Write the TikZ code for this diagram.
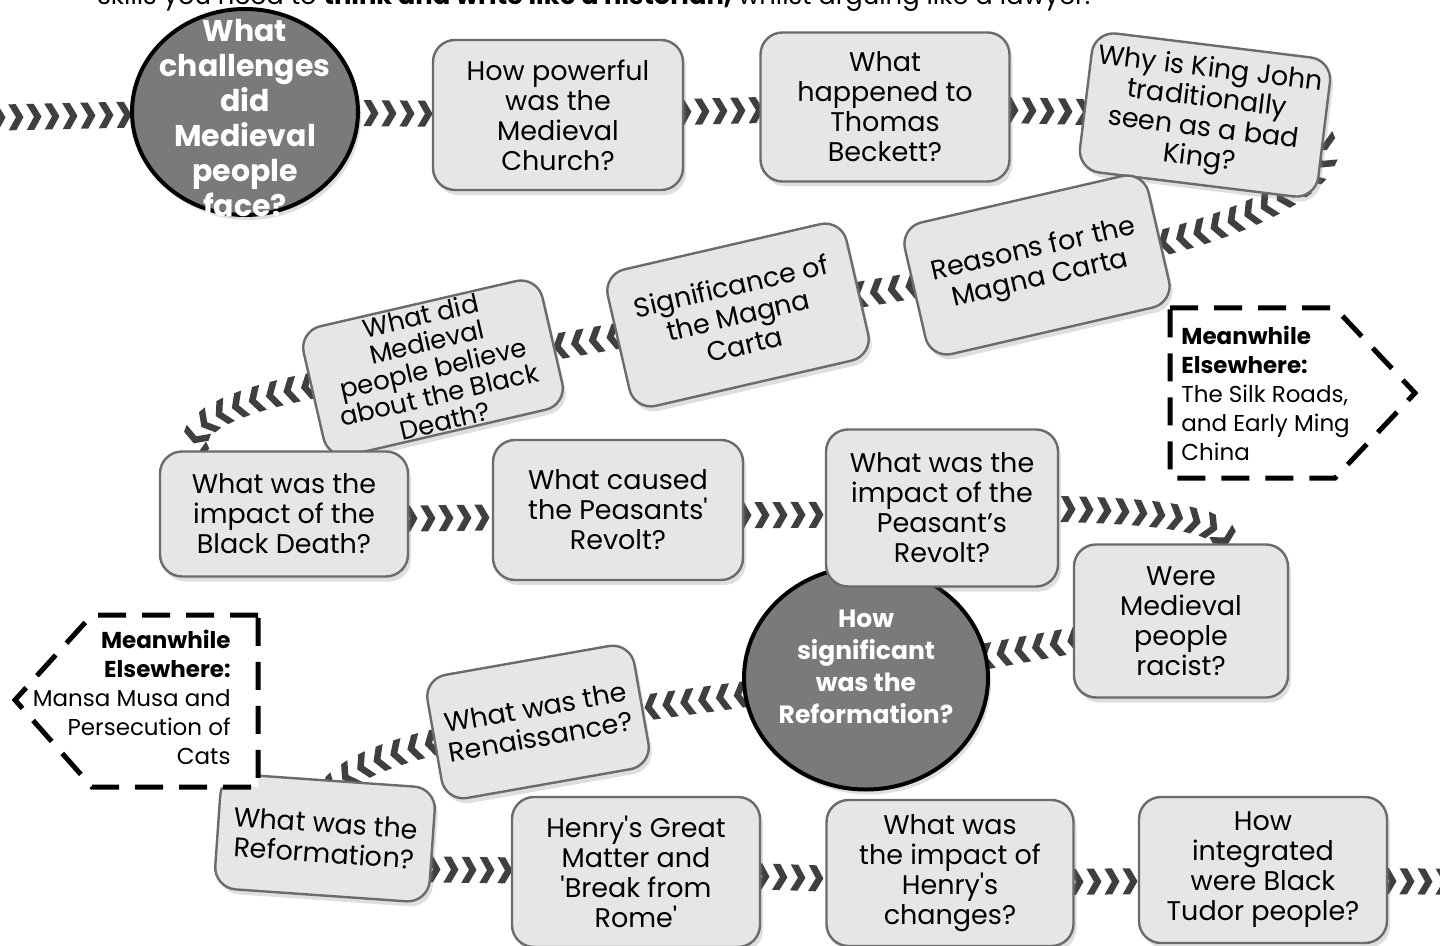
\documentclass[tikz,border=0pt]{standalone}
\usepackage{fontspec}
\setmainfont{Poppins}
\usetikzlibrary{shapes.geometric,shadows,decorations.markings,backgrounds}

\definecolor{boxfill}{HTML}{E6E6E6}
\definecolor{boxline}{HTML}{6B6B6B}
\definecolor{bigfill}{HTML}{7A7A7A}
\definecolor{chevgrey}{HTML}{3F3F3F}

\newcommand{\qsize}{\fontsize{13.5}{15}\selectfont}
\newcommand{\sq}{\textquotesingle}

\tikzset{
  qbox/.style 2 args={draw=boxline, fill=boxfill, line width=1.2pt,
    rounded corners=11pt, align=center, inner sep=1pt, font=\qsize,
    minimum width=#1*0.5pt, minimum height=#2*0.5pt,
    drop shadow={shadow xshift=1.5pt, shadow yshift=-2.5pt, opacity=0.25}},
  bigq/.style 2 args={ellipse, draw=black, fill=bigfill, line width=2pt,
    minimum width=#1*0.5pt, minimum height=#2*0.5pt, inner sep=0pt,
    drop shadow={shadow xshift=1.5pt, shadow yshift=-2.5pt, opacity=0.25}},
  bigqtext/.style={text=white, align=center, inner sep=0pt},
  chevron/.style={decoration={markings,
      mark=between positions 0 and 1 step 9pt with {
        \fill[chevgrey] (-3.75pt,6.5pt) -- (0pt,6.5pt) -- (3.75pt,0pt)
          -- (0pt,-6.5pt) -- (-3.75pt,-6.5pt) -- (0pt,0pt) -- cycle;}},
    postaction=decorate},
  elsewhere/.style={draw=black, fill=white, line width=2.5pt,
    dash pattern=on 14pt off 8pt},
  elsetext/.style={font=\fontsize{11.5}{14.5}\selectfont, inner sep=0pt}
}

\begin{document}
\begin{tikzpicture}[x=0.5pt, y=-0.5pt]
  \useasboundingbox (0,0) rectangle (1440,946);
  \clip (0,0) rectangle (1440,946);

  \node[anchor=base west, font=\fontsize{12.9}{14}\selectfont, inner sep=0pt] (intro) at (97,5)
    {skills you need to \textbf{think and write like a historian,} whilst arguing like a lawyer.};

  % big questions
  \node[bigq={226}{206}] (c1) at (245,112) {};
  \node[bigqtext, font=\fontsize{15}{17.5}\selectfont\bfseries] (c1txt) at (245,118)
    {What\\challenges\\did\\Medieval\\people\\face?};
  \node[bigq={244}{223}] (c2) at (866,678) {};
  \node[bigqtext, font=\fontsize{12.5}{16}\selectfont\bfseries] (c2txt) at (866,667)
    {How\\significant\\was the\\Reformation?};

  % lessons
  \node[qbox={250}{150}] (church) at (558,115) {How powerful\\was the\\Medieval\\Church?};
  \node[qbox={249}{149}] (becket) at (885,107) {What\\happened to\\Thomas\\Beckett?};
  \node[qbox={240}{140}, rotate=-7] (john) at (1205,115)
    {Why is King John\\traditionally\\seen as a bad\\King?};
  \node[qbox={250}{135}, rotate=13] (reasons) at (1037,265) {Reasons for the\\Magna Carta};
  \node[qbox={245}{140}, rotate=13] (signif) at (738,315) {Significance of\\the Magna\\Carta};
  \node[qbox={245}{130}, rotate=13, font=\fontsize{13}{13.5}\selectfont] (belief) at (433,368)
    {What did\\Medieval\\people believe\\about the Black\\Death?};
  \node[qbox={248}{125}] (bdeath) at (284,514) {What was the\\impact of the\\Black Death?};
  \node[qbox={250}{140}] (pcause) at (618,510) {What caused\\the Peasants\sq\\Revolt?};
  \node[qbox={232}{157}] (pimpact) at (942,508) {What was the\\impact of the\\Peasant’s\\Revolt?};
  \node[qbox={214}{153}] (racist) at (1181,621) {Were\\Medieval\\people\\racist?};
  \node[qbox={210}{125}, rotate=10] (renais) at (538,722) {What was the\\Renaissance?};
  \node[qbox={215}{115}, rotate=-4] (reform) at (325,838) {What was the\\Reformation?};
  \node[qbox={248}{150}] (henry) at (636,872) {Henry\sq s Great\\Matter and\\\sq Break from\\Rome\sq};
  \node[qbox={247}{146}] (hchange) at (950,873) {What was\\the impact of\\Henry\sq s\\changes?};
  \node[qbox={248}{146}] (tudor) at (1263,870) {How\\integrated\\were Black\\Tudor people?};

  \coordinate (inL) at (-20,118);
  \coordinate (outR) at (1475,882);

  % meanwhile elsewhere
  \draw[elsewhere] (1170,308) -- (1335,308) -- (1415,393) -- (1335,478) -- (1170,478) -- cycle;
  \node[elsetext, align=left, anchor=north west] (silk) at (1181,326)
    {\textbf{Meanwhile}\\\textbf{Elsewhere:}\\The Silk Roads,\\and Early Ming\\China};
  \draw[elsewhere] (258,615) -- (92,615) -- (15,700) -- (92,787) -- (258,787) -- cycle;
  \node[elsetext, align=right, anchor=north east] (mansa) at (231,630)
    {\textbf{Meanwhile}\\\textbf{Elsewhere:}\\Mansa Musa and\\Persecution of\\Cats};

  % the path through the year
  \begin{scope}[on background layer]
    \fill[white] (0,0) rectangle (1440,946);
    \path[chevron] (inL) -- (c1.center);
    \path[chevron] (c1.center) -- (church.center);
    \path[chevron] (church.center) -- (becket.center);
    \path[chevron] (becket.center) -- (john.center);
    \path[chevron] (john.center) .. controls (1435,112) and (1310,235) .. (reasons.center);
    \path[chevron] (reasons.center) -- (signif.center);
    \path[chevron] (signif.center) -- (belief.center);
    \path[chevron] (belief.center) .. controls (190,395) and (120,440) .. (bdeath.center);
    \path[chevron] ([yshift=-3pt]bdeath.center) -- ([yshift=-3pt]pcause.center);
    \path[chevron] ([yshift=-3pt]pcause.center) -- ([yshift=-3pt]pimpact.center);
    \path[chevron] (pimpact.center) .. controls (1100,508) and (1225,510) .. (racist.60);
    \path[chevron] (racist.center) -- (c2.center);
    \path[chevron] (c2.center) -- (renais.center);
    \path[chevron] (renais.center) .. controls (400,745) and (300,770) .. (reform.center);
    \path[chevron] ([yshift=-15pt]reform.center) -- (henry.center);
    \path[chevron] (henry.center) -- ([yshift=-5pt]hchange.center);
    \path[chevron] ([yshift=-5pt]hchange.center) -- ([yshift=-5pt]tudor.center);
    \path[chevron] ([yshift=-5pt]tudor.center) -- (outR);
  \end{scope}
\end{tikzpicture}
\end{document}
